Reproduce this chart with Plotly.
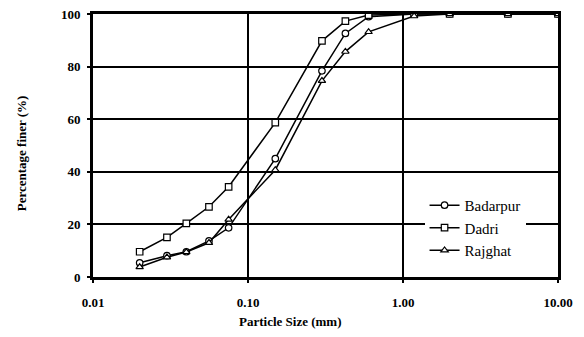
import plotly.graph_objects as go

size_mm = [0.02, 0.03, 0.04, 0.056, 0.075, 0.15, 0.3, 0.425, 0.6, 1.18, 2.0, 4.75, 10.0]
badarpur = [5.4, 8.1, 9.6, 13.7, 18.7, 45.0, 78.4, 92.6, 99.0, 100, 100, 100, 100]
dadri = [9.6, 15.1, 20.4, 26.7, 34.3, 58.7, 89.8, 97.3, 99.6, 100, 100, 100, 100]
rajghat = [3.8, 7.5, 9.5, 13.0, 21.9, 40.7, 74.6, 85.7, 93.2, 99.2, 100, 100, 100]

x_ticks = [0.01, 0.1, 1, 10]
x_tick_text = ["0.01", "0.10", "1.00", "10.00"]
y_ticks = [0, 20, 40, 60, 80, 100]
y_tick_text = ["0", "20", "40", "60", "80", "100"]

series = [
    ("Badarpur", badarpur, "circle"),
    ("Dadri", dadri, "square"),
    ("Rajghat", rajghat, "triangle-up"),
]

fig = go.Figure()
for name, vals, sym in series:
    fig.add_trace(go.Scatter(
        x=size_mm, y=vals, name=name, mode="lines+markers",
        line=dict(color="black", width=1.5),
        marker=dict(symbol=sym, size=6.5, color="white",
                    line=dict(color="black", width=1.2)),
    ))

serif = "Liberation Serif, Times New Roman, serif"

fig.update_layout(
    width=584, height=337,
    margin=dict(l=93, r=26, t=14, b=60, autoexpand=False),
    paper_bgcolor="white", plot_bgcolor="white",
    font=dict(family=serif, color="black", size=12),
    showlegend=True,
    legend=dict(x=0.713, y=0.335, xanchor="left", yanchor="top",
                bgcolor="white", borderwidth=0,
                font=dict(family=serif, size=15, color="black"),
                tracegroupgap=0, itemwidth=30),
    xaxis=dict(type="log", range=[-2, 1], tickvals=x_ticks,
               ticktext=["<b>%s</b>" % t for t in x_tick_text],
               showgrid=True, gridcolor="black", gridwidth=2,
               showline=True, linecolor="black", linewidth=3, mirror=True,
               ticks="outside", ticklen=3, tickwidth=2, tickcolor="black",
               ticklabelstandoff=8, automargin=False,
               tickfont=dict(family=serif, size=13, color="black"),
               zeroline=False),
    yaxis=dict(range=[0, 100], tickvals=y_ticks,
               ticktext=["<b>%s</b>" % t for t in y_tick_text],
               showgrid=True, gridcolor="black", gridwidth=2,
               showline=True, linecolor="black", linewidth=3, mirror=True,
               ticks="outside", ticklen=3, tickwidth=2, tickcolor="black",
               ticklabelstandoff=4, automargin=False,
               tickfont=dict(family=serif, size=13, color="black"),
               zeroline=False),
    annotations=[
        dict(text="<b>Particle Size (mm)</b>", xref="paper", yref="paper",
             x=0.424, y=-0.17, xanchor="center", yanchor="middle",
             showarrow=False, font=dict(family=serif, size=13, color="black")),
        dict(text="<b>Percentage finer (%)</b>", xref="paper", yref="paper",
             x=-0.155, y=0.47, xanchor="center", yanchor="middle", textangle=-90,
             showarrow=False, font=dict(family=serif, size=13, color="black")),
    ],
)

fig.write_html("out.html")
